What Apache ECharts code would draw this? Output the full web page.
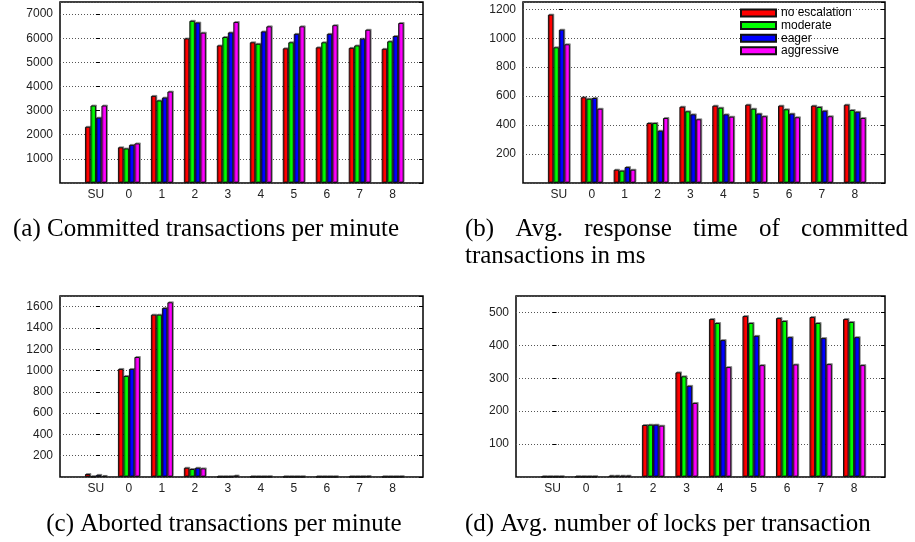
<!DOCTYPE html>
<html>
<head>
<meta charset="utf-8">
<title>Lock escalation results</title>
<script src="https://cdn.jsdelivr.net/npm/echarts@6/dist/echarts.min.js"></script>
<style>
html,body{margin:0;padding:0;background:#fff;}
#main{width:915px;height:542px;}
</style>
</head>
<body>
<div id="main"></div>
<script>
var categories = ['SU','0','1','2','3','4','5','6','7','8'];
var seriesNames = ['no escalation','moderate','eager','aggressive'];
var colors = ['#ff0000','#00ff00','#0000ff','#ff00ff'];

// (a) committed transactions per minute
var committedNone       = [2330,1480,3610,5990,5700,5830,5580,5620,5600,5560];
var committedModerate   = [3210,1430,3420,6720,6050,5770,5830,5830,5700,5870];
var committedEager      = [2710,1580,3540,6650,6240,6280,6180,6180,5980,6090];
var committedAggressive = [3210,1640,3790,6230,6670,6490,6490,6540,6350,6630];

// (b) avg. response time of committed transactions in ms
var responseNone       = [1163,592,92,414,527,534,541,534,534,541];
var responseModerate   = [937,582,85,414,495,520,513,509,525,504];
var responseEager      = [1059,587,110,361,474,474,479,479,499,492];
var responseAggressive = [958,513,92,449,440,458,461,454,461,449];

// (c) aborted transactions per minute
var abortedNone       = [28,1015,1525,87,2,2,2,2,2,2];
var abortedModerate   = [3,949,1525,75,2,2,2,2,2,2];
var abortedEager      = [20,1015,1588,87,3,2,2,2,3,2];
var abortedAggressive = [10,1127,1641,81,14,3,2,2,6,3];

// (d) avg. number of locks per transaction
var locksNone       = [1,1,4,158,318,480,489,483,486,480];
var locksModerate   = [1,1,4,159,306,468,468,474,468,471];
var locksEager      = [1,1,4,159,277,416,429,425,422,425];
var locksAggressive = [1,1,4,156,225,334,340,342,343,340];

// align: 'left' starts at x, 'center' is centred on x
var captions = [
    {text:'(a) Committed transactions per minute', x:13, y:229, align:'left'},
    {text:'(c) Aborted transactions per minute', x:224, y:524, align:'center'},
    {text:'(d) Avg. number of locks per transaction', x:465, y:524, align:'left'},
    {text:'transactions in ms', x:465, y:256, align:'left'}
];
var captionB = ['(b)','Avg.','response','time','of','committed'];

window.onload=function(){
    var myChart = echarts.init(document.getElementById('main'));
    var grids=[], xAxes=[], yAxes=[], series=[];
    var tickIdx=[0,1,2,3,4,5,6,7,8,9];

    var addPanel=function(pos,yMax,yStep,sets){
        var g=grids.length;
        grids.push({left:pos[0],top:pos[1],width:pos[2],height:181,show:true,
            borderColor:'#000',borderWidth:1.5,containLabel:false});
        xAxes.push({gridIndex:g,type:'value',min:-1.09,max:9.92,
            axisLine:{show:false},axisTick:{show:false},splitLine:{show:false},
            axisLabel:{customValues:tickIdx,margin:6,fontSize:12,color:'#222',
                fontFamily:'Liberation Sans',
                formatter:function(v){return categories[Math.round(v)];}}});
        yAxes.push({gridIndex:g,type:'value',min:0,max:yMax,interval:yStep,
            axisLine:{show:false},
            axisTick:{show:true,inside:true,length:4,lineStyle:{color:'#000'}},
            axisLabel:{showMinLabel:false,showMaxLabel:false,margin:7,fontSize:12,
                color:'#222',fontFamily:'Liberation Sans',
                formatter:function(v){return String(v);}},
            splitLine:{show:true,lineStyle:{type:[1,2],color:'#555',width:1}}});
        yAxes.push({gridIndex:g,type:'value',position:'right',min:0,max:yMax,interval:yStep,
            axisLine:{show:false},axisLabel:{show:false},splitLine:{show:false},
            axisTick:{show:true,inside:true,length:4,lineStyle:{color:'#000'}}});
        for(var s=0;s<4;s++){
            var d=[];
            for(var i=0;i<categories.length;i++) d.push([i,sets[s][i]]);
            series.push({type:'bar',name:seriesNames[s],xAxisIndex:g,yAxisIndex:2*g,
                data:d,barWidth:'16.67%',barGap:'0%',
                itemStyle:{color:colors[s],borderColor:'#111',borderWidth:1,
                    shadowColor:'rgba(0,0,0,0.35)',shadowOffsetX:1,shadowOffsetY:-1,shadowBlur:0}});
        }
    };

    addPanel([60,2,363],7500,1000,[committedNone,committedModerate,committedEager,committedAggressive]);
    addPanel([523,2,362],1250,200,[responseNone,responseModerate,responseEager,responseAggressive]);
    addPanel([60,296,363],1700,200,[abortedNone,abortedModerate,abortedEager,abortedAggressive]);
    addPanel([516,296,369],550,100,[locksNone,locksModerate,locksEager,locksAggressive]);

    // captions, line (b) is justified like LaTeX does
    var font='25px "Liberation Serif"';
    var graphics=[];
    captions.forEach(function(c){
        graphics.push({type:'text',x:c.x,y:c.y,style:{text:c.text,font:font,fill:'#000',
            align:c.align,verticalAlign:'middle'}});
    });
    var ctx=document.createElement('canvas').getContext('2d');
    ctx.font=font;
    var total=0;
    captionB.forEach(function(w){total+=ctx.measureText(w).width;});
    var gap=(908-465-total)/(captionB.length-1), cx=465;
    captionB.forEach(function(w){
        graphics.push({type:'text',x:cx,y:229,style:{text:w,font:font,fill:'#000',verticalAlign:'middle'}});
        cx+=ctx.measureText(w).width+gap;
    });

    var option = {
        animation:false,
        backgroundColor:'#fff',
        legend:{data:seriesNames,orient:'vertical',left:740,top:7,padding:0,itemWidth:35,itemHeight:7,
            itemGap:0.6,icon:'rect',selectedMode:false,
            textStyle:{fontSize:12,lineHeight:12,color:'#000',fontFamily:'Liberation Sans'}},
        grid:grids,
        xAxis:xAxes,
        yAxis:yAxes,
        series:series,
        graphic:graphics
    };
    myChart.setOption(option);
};
</script>
</body>
</html>
